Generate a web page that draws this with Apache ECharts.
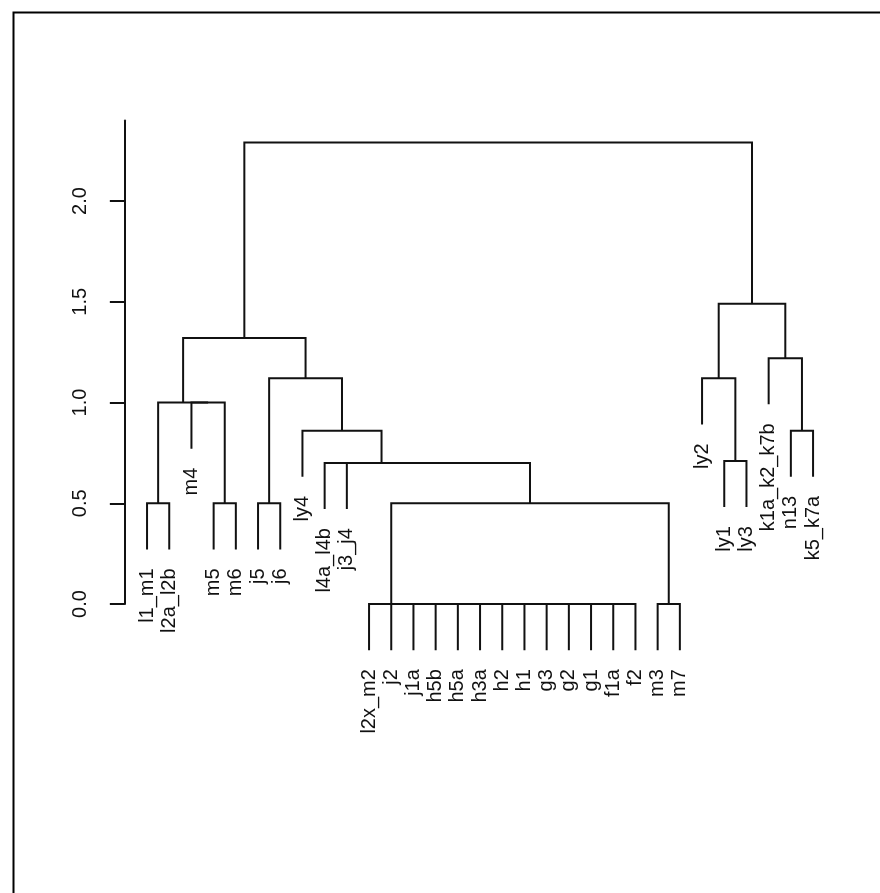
<!DOCTYPE html>
<html>
<head>
<meta charset="utf-8">
<script src="https://cdn.jsdelivr.net/npm/echarts@6/dist/echarts.min.js"></script>
<style>
html,body{margin:0;padding:0;background:#fff;}
#chart{width:880px;height:893px;}
</style>
</head>
<body>
<div id="chart"></div>
<script>
// Leaf labels in display order (left to right)
const leafLabels = ['l1_m1','l2a_l2b','m4','m5','m6','j5','j6','ly4','l4a_l4b','j3_j4',
  'l2x_m2','j2','j1a','h5b','h5a','h3a','h2','h1','g3','g2','g1','f1a','f2','m3','m7',
  'ly2','ly1','ly3','k1a_k2_k7b','n13','k5_k7a'];

// hclust-style merge matrix: negative = leaf index (1-based), positive = earlier merge (1-based)
const mergePairs = [
  [-22,-23],[-21,1],[-20,2],[-19,3],[-18,4],[-17,5],[-16,6],[-15,7],[-14,8],[-13,9],
  [-12,10],[-11,11],[-24,-25],[-1,-2],[-4,-5],[-6,-7],[12,13],[-3,15],[14,18],[-10,17],
  [-9,20],[-8,21],[16,22],[19,23],[-27,-28],[-26,25],[-30,-31],[-29,27],[26,28],[24,29]
];
const mergeHeights = [
  0,0,0,0,0,0,0,0,0,0,
  0,0,0,0.5,0.5,0.5,0.5,1.0,1.0,0.70,
  0.70,0.86,1.12,1.32,0.71,1.12,0.86,1.22,1.49,2.29
];
const yTicks = [0, 0.5, 1, 1.5, 2];
const hangFraction = 0.1;

// derive node positions
const maxH = Math.max.apply(null, mergeHeights);
const minH = Math.min.apply(null, mergeHeights);
const hang = hangFraction * (maxH - minH);
const mergeX = [];
const segData = [];
const leafEnds = new Array(leafLabels.length);
mergePairs.forEach(function (p, k) {
  const h = mergeHeights[k];
  const xs = [], hs = [];
  p.forEach(function (c) {
    if (c < 0) {
      xs.push(-c);
      hs.push(h - hang);
      leafEnds[-c - 1] = h - hang;
    } else {
      xs.push(mergeX[c - 1]);
      hs.push(mergeHeights[c - 1]);
    }
  });
  mergeX.push((xs[0] + xs[1]) / 2);
  segData.push([xs[0], xs[1], h, hs[0], hs[1]]);
});
const labelData = leafLabels.map(function (n, i) { return [i + 1, leafEnds[i], n]; });

const FONT = 'Liberation Sans, Arial, sans-serif';
const chart = echarts.init(document.getElementById('chart'), null, {renderer: 'canvas'});
chart.setOption({
  animation: false,
  backgroundColor: '#ffffff',
  graphic: [{
    type: 'rect', left: 11, top: 10, z: 100,
    shape: {x: 0, y: 0, width: 1000, height: 1000},
    style: {fill: 'none', stroke: '#000', lineWidth: 2}
  }],
  grid: {left: 120.4, top: 120.4, width: 719.3, height: 483.6},
  xAxis: {type: 'value', min: -0.2, max: 32.2, show: false},
  yAxis: {
    type: 'value', min: 0, max: 2.4,
    splitLine: {show: false},
    axisLine: {show: true, lineStyle: {color: '#111', width: 2}},
    axisTick: {show: true, inside: false, length: 15, customValues: yTicks, lineStyle: {color: '#111', width: 2}},
    axisLabel: {
      customValues: yTicks, rotate: 90, margin: 30,
      fontFamily: FONT, fontSize: 20, color: '#111',
      formatter: function (v) { return v.toFixed(1); }
    }
  },
  series: [{
    type: 'custom',
    clip: false,
    data: segData,
    encode: {x: [0, 1], y: [2, 3, 4]},
    renderItem: function (params, api) {
      const xl = api.value(0), xr = api.value(1), h = api.value(2), hl = api.value(3), hr = api.value(4);
      const pts = [api.coord([xl, hl]), api.coord([xl, h]), api.coord([xr, h]), api.coord([xr, hr])];
      return {type: 'polyline', shape: {points: pts}, style: {stroke: '#111', lineWidth: 2, fill: null}};
    }
  }, {
    type: 'custom',
    clip: false,
    data: labelData,
    encode: {x: 0, y: 1},
    renderItem: function (params, api) {
      const p = api.coord([api.value(0), api.value(1)]);
      return {
        type: 'text', x: p[0], y: p[1] + 19, rotation: Math.PI / 2,
        style: {text: labelData[params.dataIndex][2], align: 'right', verticalAlign: 'middle',
          font: '20px ' + FONT, fill: '#111'}
      };
    }
  }]
});
</script>
</body>
</html>
